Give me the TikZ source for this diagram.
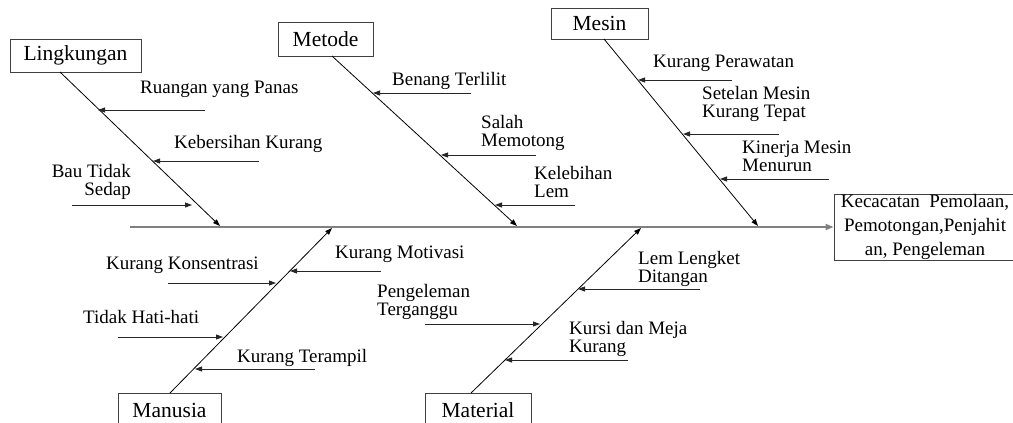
\documentclass[tikz,border=0pt]{standalone}
\usepackage{fontspec}
\setmainfont{Liberation Serif}
\usetikzlibrary{arrows.meta}
\tikzset{
	kotak/.style={draw=black!75,line width=0.8pt,inner sep=0pt,font=\fontsize{21.5}{18}\selectfont},
	label/.style={inner sep=0pt,font=\fontsize{19}{18}\selectfont},
	tulang/.style={line width=0.8pt},
	sebab/.style={line width=0.9pt,black!85,-{Triangle[length=7pt,width=5pt]}},
}
\begin{document}
\begin{tikzpicture}[x=1pt,y=-1pt]
		\useasboundingbox (0,0) rectangle (1013,423);
		\clip (0,0) rectangle (1013,423);
		% kotak kategori
		\node[kotak,minimum width=131,minimum height=33] (lingkungan) at (75.5,55.5) {Lingkungan};
		\node[kotak,minimum width=95,minimum height=34] (metode) at (325.5,39) {Metode};
		\node[kotak,minimum width=97,minimum height=31] (mesin) at (599.5,23.5) {Mesin};
		\node[kotak,minimum width=103,minimum height=34] (manusia) at (169.5,410) {Manusia};
		\node[kotak,minimum width=106,minimum height=34] (material) at (478,410) {Material};
		\node[kotak,minimum width=182,minimum height=66,align=center,
			font=\fontsize{19}{24}\selectfont] (akibat) at (925,227)
			{Kecacatan~~Pemolaan,\\Pemotongan,Penjahit\\an, Pengeleman};
		% tulang ikan
		\coordinate (S) at (130,227);
		\coordinate (L1) at (60,72);
		\coordinate (L2) at (220,226);
		\coordinate (T1) at (332,56);
		\coordinate (T2) at (517,226);
		\coordinate (M1) at (604,39);
		\coordinate (M2) at (758,226);
		\coordinate (N1) at (170,393);
		\coordinate (N2) at (332,228);
		\coordinate (R1) at (471,393);
		\coordinate (R2) at (641,228);
		\draw[line width=1.8pt,black!50,-{Triangle[length=8pt,width=6pt]}] (S) -- (akibat.west);
		\draw[tulang,-{Triangle[length=7pt,width=5pt]}] (L1) -- (L2);
		\draw[tulang,-{Triangle[length=7pt,width=5pt]}] (T1) -- (T2);
		\draw[tulang,-{Triangle[length=7pt,width=5pt]}] (M1) -- (M2);
		\draw[tulang,-{Triangle[length=7pt,width=5pt]}] (N1) -- (N2);
		\draw[tulang,-{Triangle[length=7pt,width=5pt]}] (R1) -- (R2);
		% lingkungan
		\node[label,anchor=base west] (l1) at (140,93) {Ruangan yang Panas};
		\node[label,anchor=base west] (l2) at (174,148) {Kebersihan Kurang};
		\node[label,anchor=base east,align=right] (l3) at (131,195) {Bau Tidak\\Sedap};
		\draw[sebab] (205,110) -- (98,110);
		\draw[sebab] (259,161) -- (153,161);
		\draw[sebab] (72,205) -- (192,205);
		% metode
		\node[label,anchor=base west] (t1) at (392,85) {Benang Terlilit};
		\node[label,anchor=base west,align=left] (t2) at (481,146) {Salah\\Memotong};
		\node[label,anchor=base west,align=left] (t3) at (534,197) {Kelebihan\\Lem};
		\draw[sebab] (471,93) -- (373,93);
		\draw[sebab] (536,155) -- (441,155);
		\draw[sebab] (575,205) -- (495,205);
		% mesin
		\node[label,anchor=base west] (m1) at (653,67) {Kurang Perawatan};
		\node[label,anchor=base west,align=left] (m2) at (702,117) {Setelan Mesin\\Kurang Tepat};
		\node[label,anchor=base west,align=left] (m3) at (742,171) {Kinerja Mesin\\Menurun};
		\draw[sebab] (732,80) -- (638,80);
		\draw[sebab] (779,134) -- (683,134);
		\draw[sebab] (829,179) -- (720,179);
		% manusia
		\node[label,anchor=base west] (n1) at (335,258) {Kurang Motivasi};
		\node[label,anchor=base west] (n2) at (106,269) {Kurang Konsentrasi};
		\node[label,anchor=base west] (n3) at (83,323) {Tidak Hati-hati};
		\node[label,anchor=base west] (n4) at (237,362) {Kurang Terampil};
		\draw[sebab] (381,271) -- (290,271);
		\draw[sebab] (168,283) -- (276,283);
		\draw[sebab] (118,337) -- (223,337);
		\draw[sebab] (315,369) -- (195,369);
		% material
		\node[label,anchor=base west,align=left] (r1) at (638,282) {Lem Lengket\\Ditangan};
		\node[label,anchor=base west,align=left] (r2) at (377,315) {Pengeleman\\Terganggu};
		\node[label,anchor=base west,align=left] (r3) at (569,352) {Kursi dan Meja\\Kurang};
		\draw[sebab] (700,289) -- (578,289);
		\draw[sebab] (425,324) -- (540,324);
		\draw[sebab] (628,360) -- (505,360);
	\end{tikzpicture}
\end{document}
